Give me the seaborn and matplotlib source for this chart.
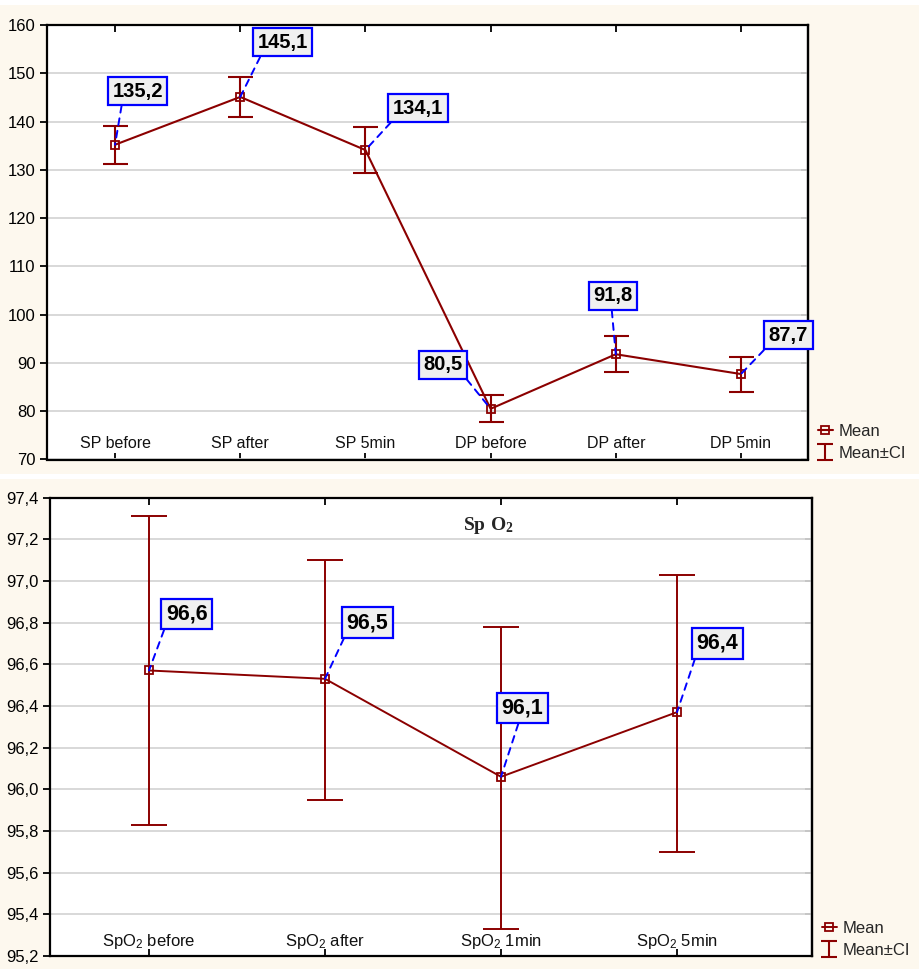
import numpy as np
import pandas as pd
import seaborn as sb
import matplotlib.pyplot as plt
from matplotlib.patches import Rectangle
from matplotlib.ticker import FuncFormatter

# blood pressure panel
BP_LABELS = ['SP before', 'SP after', 'SP 5min', 'DP before', 'DP after', 'DP 5min']
BP_MEAN = [135.2, 145.1, 134.1, 80.5, 91.8, 87.7]
BP_LO = [131.3, 140.9, 129.4, 77.7, 88.1, 83.9]
BP_HI = [139.0, 149.2, 138.8, 83.3, 95.5, 91.3]
BP_TXT = ['135,2', '145,1', '134,1', '80,5', '91,8', '87,7']

# SpO2 panel
SPO2_LABELS = ['SpO$_2$ before', 'SpO$_2$ after', 'SpO$_2$ 1min', 'SpO$_2$ 5min']
SPO2_MEAN = [96.57, 96.53, 96.06, 96.37]
SPO2_LO = [95.83, 95.95, 95.33, 95.70]
SPO2_HI = [97.31, 97.10, 96.78, 97.03]
SPO2_TXT = ['96,6', '96,5', '96,1', '96,4']

RED = '#8B0000'
CREAM = '#FDF8EE'

sb.set_style('white')
plt.rcParams['font.family'] = ['Liberation Sans', 'DejaVu Sans']
plt.rcParams['mathtext.fontset'] = 'custom'
plt.rcParams['mathtext.rm'] = 'Liberation Sans'
plt.rcParams['mathtext.it'] = 'Liberation Sans:italic'
plt.rcParams['mathtext.bf'] = 'Liberation Serif:bold'

fig = plt.figure(figsize=(9.19, 9.69), dpi=100, facecolor='white')
fig.patches.append(Rectangle((0, 1 - 474 / 969), 1, 469 / 969, transform=fig.transFigure,
                             fc=CREAM, ec='none', zorder=-10))
fig.patches.append(Rectangle((0, 0), 1, 490 / 969, transform=fig.transFigure,
                             fc=CREAM, ec='none', zorder=-10))

ax1 = fig.add_axes([46.7 / 919, 1 - 459.5 / 969, (807.7 - 46.7) / 919, (459.5 - 25) / 969])
ax2 = fig.add_axes([50 / 919, 1 - 956 / 969, (812 - 50) / 919, (956 - 497.5) / 969])


def comma(v, pos, nd):
    return ('{:.%df}' % nd).format(v).replace('.', ',')


def draw_panel(ax, labels, mean, lo, hi, txt, boxes, xlim, ylim, yticks, nd,
               capsize, lw, fs_lab, fs_box):
    x = np.arange(len(labels))
    df = pd.DataFrame({'x': x, 'mean': mean})
    mean = np.array(mean)
    err = [mean - np.array(lo), np.array(hi) - mean]
    ax.errorbar(x, mean, yerr=err, fmt='none', ecolor=RED, elinewidth=lw,
                capsize=capsize, capthick=lw, zorder=3)
    sb.lineplot(data=df, x='x', y='mean', ax=ax, color=RED, lw=lw, marker='s',
                markersize=6, markerfacecolor='none', markeredgecolor=RED,
                markeredgewidth=1.3, zorder=4, legend=False)
    mean_line = ax.get_lines()[-1]
    # empty errorbar used only as legend key
    eb_key = ax.errorbar([np.nan], [np.nan], yerr=[[1], [1]], fmt='none', ecolor=RED,
                         elinewidth=1.5, capsize=6, capthick=1.5)
    ax.set_xlim(*xlim)
    ax.set_ylim(*ylim)
    ax.set_yticks(yticks)
    ax.yaxis.set_major_formatter(FuncFormatter(lambda v, p: comma(v, p, nd)))
    ax.set_xticks(x)
    ax.set_xticklabels(labels, fontsize=fs_lab)
    ax.set_xlabel('')
    ax.set_ylabel('')
    ax.grid(axis='y', color='#D6D6D6', lw=1.3)
    ax.set_axisbelow(True)
    for s in ax.spines.values():
        s.set_color('black')
        s.set_linewidth(1.6)
    ax.tick_params(axis='x', bottom=True, top=True, direction='in', length=5,
                   width=1.3, pad=-17, colors='black')
    ax.tick_params(axis='y', left=True, direction='out', length=5, width=1.3,
                   labelsize=12, colors='black', pad=3)
    for lab in ax.get_xticklabels():
        lab.set_color('#111111')
    sec = ax.secondary_yaxis('right')
    sec.set_yticks(yticks)
    sec.tick_params(direction='in', length=5, width=1.3, labelright=False)
    sec.spines['right'].set_linewidth(1.6)

    for i, (bx, by, rel) in enumerate(boxes):
        ax.annotate(txt[i], xy=(x[i], mean[i]), xytext=(bx, by), ha='center', va='center',
                    fontsize=fs_box, fontweight='bold', color='black',
                    bbox=dict(boxstyle='square,pad=0.22', fc='#F0F0F0', ec='blue', lw=1.6),
                    arrowprops=dict(arrowstyle='-', ls=(0, (3.5, 3)), color='blue', lw=1.4,
                                    relpos=rel, shrinkA=0, shrinkB=0),
                    zorder=5)

    ax.legend([mean_line, eb_key], ['Mean', 'Mean\u00b1CI'], loc='lower left',
              bbox_to_anchor=(1.002, -0.022), frameon=False, fontsize=12,
              handlelength=0.9, handletextpad=0.35, borderpad=0, labelspacing=0.4)


bp_boxes = [(0.18, 146.3, (0.2, 0)), (1.34, 156.4, (0.1, 0)), (2.42, 142.8, (0.05, 0)),
            (2.62, 89.6, (1.0, 0)), (3.98, 103.9, (0.45, 0)), (5.38, 95.7, (0.0, 0))]
draw_panel(ax1, BP_LABELS, BP_MEAN, BP_LO, BP_HI, BP_TXT, bp_boxes,
           (-0.546, 5.533), (70, 160), np.arange(70, 161, 10), 0, 9, 1.5, 11.5, 14.5)

spo2_boxes = [(0.215, 96.84, (0.0, 0)), (1.24, 96.80, (0.0, 0)), (2.12, 96.39, (0.45, 0)),
              (3.23, 96.70, (0.0, 0))]
draw_panel(ax2, SPO2_LABELS, SPO2_MEAN, SPO2_LO, SPO2_HI, SPO2_TXT, spo2_boxes,
           (-0.5625, 3.767), (95.2, 97.4), np.round(np.arange(95.2, 97.41, 0.2), 1), 1,
           13, 1.4, 12, 15.5)
ax2.text(0.575, 0.94, r'$\mathbf{Sp\ O_2}$', transform=ax2.transAxes, ha='center',
         va='center', fontsize=14)

fig.savefig('out.png', dpi=100, facecolor=fig.get_facecolor())
